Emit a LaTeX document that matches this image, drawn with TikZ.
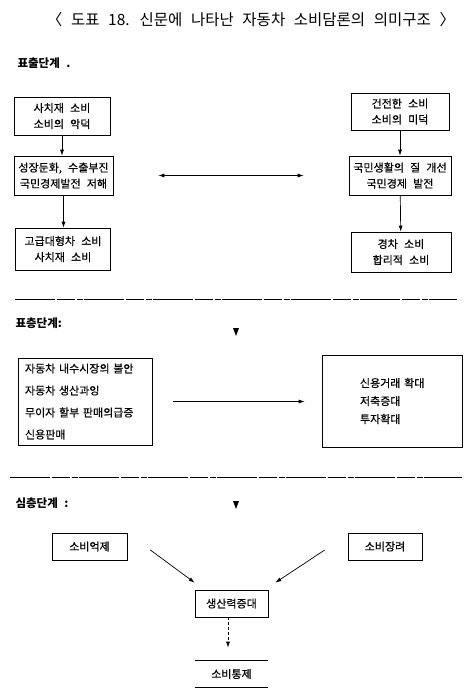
\documentclass[tikz,border=0pt]{standalone}
\usepackage{fontspec}
\setmainfont{Noto Sans CJK KR}[WordSpace=2.5]
\newfontfamily\boxfont{Noto Sans CJK KR}[WordSpace=2.5,FakeBold=0.5]
\usetikzlibrary{arrows.meta}
\tikzset{
  box/.style={draw, line width=0.7pt, inner sep=1pt, align=center,
    font=\boxfont\fontsize{11}{16}\selectfont},
  stage/.style={anchor=west, font=\fontsize{11.5}{13}\selectfont\bfseries},
  link/.style={-{Latex[length=6pt,width=4pt]}, line width=0.7pt},
  sep/.style={line width=0.6pt, dash pattern=on 40pt off 1.5pt on 18pt off 2pt on 6pt off 1.5pt},
}
\begin{document}
\begin{tikzpicture}[x=1pt,y=-1pt]
    \useasboundingbox (0,0) rectangle (472,696);
    %% Title
    \node[font=\fontsize{15.5}{17}\selectfont] (title) at (251,20)
        {〈 도표 18. 신문에 나타난 자동차 소비담론의 의미구조 〉};
    %% Stages
    \node[stage] (s1) at (14,63) {표출단계 .};
    \node[stage] (s2) at (12,323) {표층단계:};
    \node[stage] (s3) at (12,503) {심층단계 :};
    \draw[sep] (15,299) -- (457,299);
    \draw[sep] (10,477) -- (462,477);
    \foreach \y in {332,505}
        \fill ({233},{\y-4}) -- ({239},{\y-4}) -- ({236},{\y+4}) -- cycle;
    %% Surface stage
    \node[box, minimum width=96, minimum height=38] (A) at (62,116) {사치재 소비\\소비의 악덕};
    \node[box, minimum width=99, minimum height=39] (B) at (63.5,175.5) {성장둔화, 수출부진\\국민경제발전 저해};
    \node[box, minimum width=95, minimum height=42] (C) at (63,249) {고급대형차 소비\\사치재 소비};
    \node[box, minimum width=98, minimum height=37] (D) at (400,111.5) {건전한 소비\\소비의 미덕};
    \node[box, minimum width=102, minimum height=39] (E) at (400,175.5) {국민생활의 질 개선\\국민경제 발전};
    \node[box, minimum width=100, minimum height=40] (F) at (401,252) {경차 소비\\합리적 소비};
    \draw[link] (A.south) -- (A.south |- B.north);
    \draw[link] (B.south) -- (B.south |- C.north);
    \draw[link] (D) -- (E);
    \draw[link] (E) -- (F);
    \draw[line width=0.7pt, {Latex[length=6pt,width=4pt]}-{Latex[length=6pt,width=4pt]},
        shorten <=45pt, shorten >=45pt] (B) -- (E);
    %% Shallow stage
    \node[box, text width=120, inner xsep=7, minimum height=87, align=left,
        font=\boxfont\fontsize{11}{22}\selectfont] (G) at (85,401.5)
        {자동차 내수시장의 불안\\자동차 생산과잉\\무이자 할부 판매의급증\\신용판매};
    \node[box, text width=84, inner xsep=28, minimum height=92, align=left,
        font=\boxfont\fontsize{11}{18}\selectfont] (H) at (392,401)
        {\hspace*{10pt}신용거래 확대\\\hspace*{10pt}저축증대\\\hspace*{10pt}투자확대};
    \draw[link, shorten <=21pt, shorten >=17pt] (G) -- (G -| H.west);
    %% Deep stage
    \node[box, minimum width=75, minimum height=27] (I) at (89.5,546.5) {소비억제};
    \node[box, minimum width=74, minimum height=27] (J) at (385,546.5) {소비장려};
    \node[box, minimum width=73, minimum height=27] (K) at (231.5,603.5) {생산력증대};
    \node[box, draw=none, minimum width=73, minimum height=26] (L) at (231.5,674) {소비통제};
    \draw[line width=0.7pt] (L.north west) -- (L.north east);
    \draw[line width=0.7pt] (L.south west) -- (L.south east);
    \draw[link] ([xshift=23pt,yshift=-3.5pt]I.east) -- ([yshift=7pt]K.north west);
    \draw[link] ([xshift=-23pt,yshift=-3.5pt]J.west) -- ([xshift=7pt,yshift=7pt]K.north east);
    \draw[link, densely dashed, shorten >=13pt] ([xshift=-3.5pt]K.south) -- ([xshift=-3.5pt]L.north);
\end{tikzpicture}
\end{document}
